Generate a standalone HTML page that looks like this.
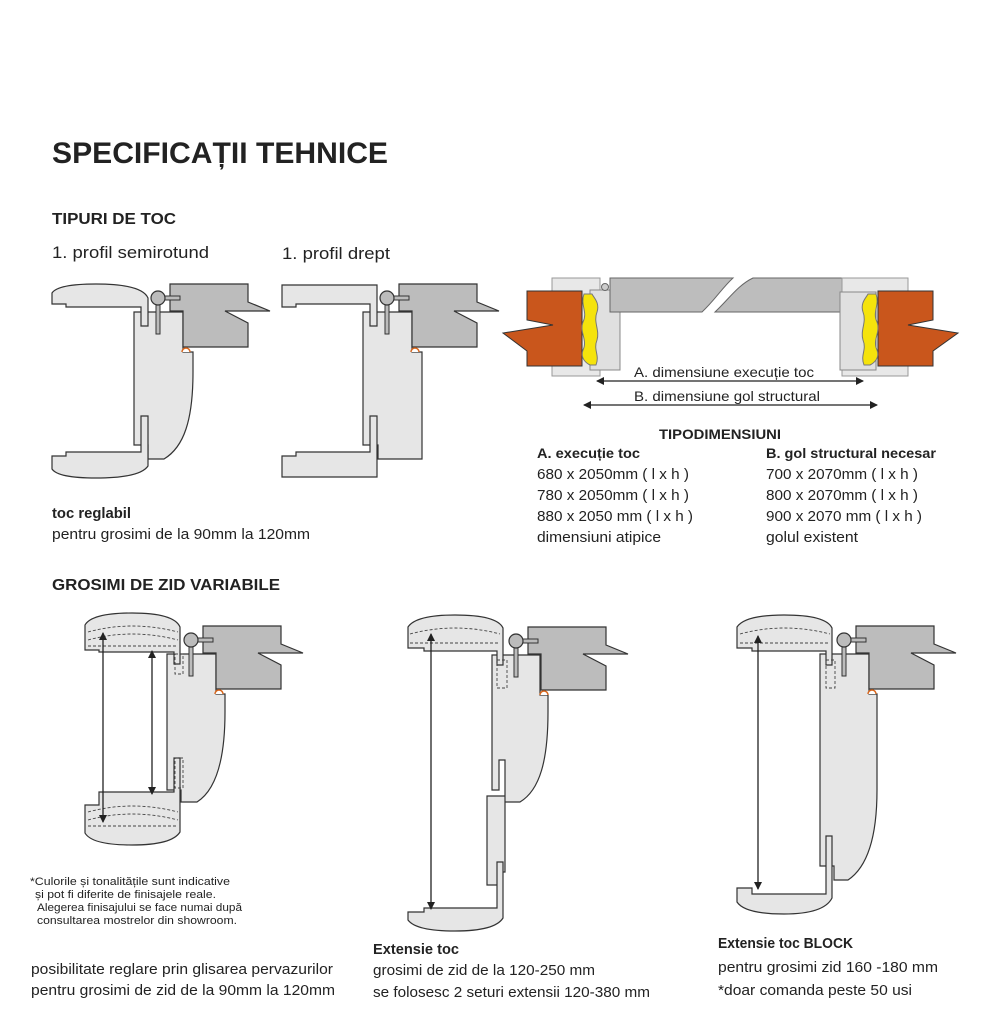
<!DOCTYPE html>
<html><head><meta charset="utf-8"><style>
html,body{margin:0;padding:0;background:#fff;}
svg{display:block;}
text{font-family:"Liberation Sans",sans-serif;fill:#222;}
.b{font-weight:bold;}
</style></head><body>
<svg width="993" height="1024" viewBox="0 0 993 1024" xmlns="http://www.w3.org/2000/svg">
<defs>
<marker id="ah" markerWidth="8" markerHeight="8" refX="7" refY="4" orient="auto-start-reverse" markerUnits="userSpaceOnUse"><path d="M0,0 L8,4 L0,8 Z" fill="#222"/></marker>
<g id="hw">
 <path d="M36,-28 H114 V-10 L136,-1 H91 L114,11 V35 H49 V-1 H36 Z" fill="#bcbcbc" stroke="#333" stroke-width="1.2"/>
 <rect x="30" y="-16" width="16" height="4" fill="#bcbcbc" stroke="#333" stroke-width="1"/>
 <rect x="22" y="-8" width="4" height="30" fill="#bcbcbc" stroke="#333" stroke-width="1"/>
 <circle cx="24" cy="-14" r="7" fill="#bcbcbc" stroke="#333" stroke-width="1.2"/>
 <path d="M48,40 a4,4 0 0 1 8,0" fill="#fff" stroke="#d8661c" stroke-width="1.5"/>
</g>
</defs>

<text x="52" y="163" class="b" font-size="30" textLength="336" lengthAdjust="spacingAndGlyphs">SPECIFICAȚII TEHNICE</text>
<text x="52" y="224" class="b" font-size="16" textLength="124" lengthAdjust="spacingAndGlyphs">TIPURI DE TOC</text>
<text x="52" y="258" font-size="17" textLength="157" lengthAdjust="spacingAndGlyphs">1. profil semirotund</text>
<text x="282" y="259" font-size="17" textLength="108" lengthAdjust="spacingAndGlyphs">1. profil drept</text>

<g stroke="#333" stroke-width="1.2" fill="#e6e6e6">
 <path d="M134,312 H183 V352 H193 V372 C193,420 184,447 164,459 H148 V445 H134 Z"/>
 <path d="M52,304 V293 Q58,284 96,284 Q142,284 148,298 V326 H141 V307 H66 V304 Z"/>
 <path d="M52,456 H66 V452 H141 V416 H148 V466 Q140,478 96,478 Q58,478 52,469 Z"/>
</g>
<use href="#hw" x="134" y="312"/>

<g stroke="#333" stroke-width="1.2" fill="#e6e6e6">
 <path d="M363,312 H412 V352 H422 V459 H378 V445 H363 Z"/>
 <path d="M282,285 H377 V326 H370 V304 H296 V307 H282 Z"/>
 <path d="M282,456 H296 V452 H370 V416 H377 V477 H282 Z"/>
</g>
<use href="#hw" x="363" y="312"/>

<g stroke="#666" stroke-width="1">
 <rect x="552" y="278" width="48" height="98" fill="#e8e8e8" stroke="#999"/>
 <rect x="590" y="290" width="30" height="80" fill="#e0e0e0" stroke="#888"/>
 <path d="M527,291 H582 V366 H527 V351 L503,333 L553,325 L527,320 Z" fill="#c9561c" stroke="#333"/>
 <path d="M584,294 C580,305 588,312 583,322 C579,332 588,340 583,350 C580,358 586,363 590,365 L596,365 C600,355 593,350 597,340 C600,330 593,322 597,312 C600,303 594,298 592,294 Z" fill="#f5e30c" stroke="#777"/>
 <path d="M610,278 H733 C722,288 715,300 702,312 H610 Z" fill="#bdbdbd"/>
 <path d="M753,278 H850 V312 H715 C728,300 738,285 753,278 Z" fill="#bdbdbd"/>
 <circle cx="605" cy="287" r="3.5" fill="#ccc"/>
 <rect x="842" y="278" width="66" height="98" fill="#e8e8e8" stroke="#999"/>
 <rect x="840" y="292" width="36" height="78" fill="#e0e0e0" stroke="#888"/>
 <path d="M933,291 H878 V366 H933 V351 L958,333 L908,325 L933,320 Z" fill="#c9561c" stroke="#333"/>
 <path d="M876,294 C880,305 872,312 877,322 C881,332 872,340 877,350 C880,358 874,363 870,365 L864,365 C860,355 867,350 863,340 C860,330 867,322 863,312 C860,303 866,298 868,294 Z" fill="#f5e30c" stroke="#777"/>
</g>
<line x1="597" y1="381" x2="863" y2="381" stroke="#222" stroke-width="1.3" marker-start="url(#ah)" marker-end="url(#ah)"/>
<line x1="584" y1="405" x2="877" y2="405" stroke="#222" stroke-width="1.3" marker-start="url(#ah)" marker-end="url(#ah)"/>
<text x="634" y="377" font-size="14" textLength="180" lengthAdjust="spacingAndGlyphs">A. dimensiune execuție toc</text>
<text x="634" y="401" font-size="14" textLength="186" lengthAdjust="spacingAndGlyphs">B. dimensiune gol structural</text>

<text x="659" y="439" class="b" font-size="14" textLength="122" lengthAdjust="spacingAndGlyphs">TIPODIMENSIUNI</text>
<text x="537" y="458" class="b" font-size="14" textLength="103" lengthAdjust="spacingAndGlyphs">A. execuție toc</text>
<text x="537" y="479" font-size="14.5" textLength="152" lengthAdjust="spacingAndGlyphs">680 x 2050mm ( l x h )</text>
<text x="537" y="500" font-size="14.5" textLength="152" lengthAdjust="spacingAndGlyphs">780 x 2050mm ( l x h )</text>
<text x="537" y="521" font-size="14.5" textLength="156" lengthAdjust="spacingAndGlyphs">880 x 2050 mm ( l x h )</text>
<text x="537" y="542" font-size="14.5" textLength="124" lengthAdjust="spacingAndGlyphs">dimensiuni atipice</text>
<text x="766" y="458" class="b" font-size="14" textLength="170" lengthAdjust="spacingAndGlyphs">B. gol structural necesar</text>
<text x="766" y="479" font-size="14.5" textLength="152" lengthAdjust="spacingAndGlyphs">700 x 2070mm ( l x h )</text>
<text x="766" y="500" font-size="14.5" textLength="152" lengthAdjust="spacingAndGlyphs">800 x 2070mm ( l x h )</text>
<text x="766" y="521" font-size="14.5" textLength="156" lengthAdjust="spacingAndGlyphs">900 x 2070 mm ( l x h )</text>
<text x="766" y="542" font-size="14.5" textLength="92" lengthAdjust="spacingAndGlyphs">golul existent</text>

<text x="52" y="518" class="b" font-size="14.5" textLength="79" lengthAdjust="spacingAndGlyphs">toc reglabil</text>
<text x="52" y="539" font-size="14.5" textLength="258" lengthAdjust="spacingAndGlyphs">pentru grosimi de la 90mm la 120mm</text>

<text x="52" y="590" class="b" font-size="16" textLength="228" lengthAdjust="spacingAndGlyphs">GROSIMI DE ZID VARIABILE</text>

<g stroke="#333" stroke-width="1.2" fill="#e6e6e6">
 <path d="M167,654 H216 V694 H225 V712 C225,760 216,790 197,802 H181 V790 H167 Z"/>
 <path d="M85,640 V625 Q92,613 132,613 Q174,613 180,627 V664 H174 V652 H99 V650 H85 Z"/>
 <path d="M85,805 H99 V792 H174 V758 H180 V832 Q172,845 132,845 Q92,845 85,833 Z"/>
</g>
<g fill="none" stroke="#444" stroke-width="0.9" stroke-dasharray="3,2">
 <path d="M88,632 Q132,620 178,632"/><path d="M88,640 Q132,628 178,640"/><path d="M88,646 H178"/>
 <path d="M88,812 Q132,800 178,812"/><path d="M88,820 Q132,808 178,820"/><path d="M88,826 H178"/>
 <rect x="175" y="654" width="8" height="20"/><rect x="175" y="758" width="8" height="30"/>
</g>
<use href="#hw" x="167" y="654"/>
<line x1="103" y1="633" x2="103" y2="822" stroke="#222" stroke-width="1.3" marker-start="url(#ah)" marker-end="url(#ah)"/>
<line x1="152" y1="651" x2="152" y2="794" stroke="#222" stroke-width="1.3" marker-start="url(#ah)" marker-end="url(#ah)"/>

<g stroke="#333" stroke-width="1.2" fill="#e6e6e6">
 <path d="M492,655 H540 V695 H548 V712 C548,760 540,790 520,802 H505 V796 H487 V885 H500 V872 H505 V760 H499 V790 H492 Z"/>
 <path d="M408,640 V627 Q416,615 455,615 Q497,615 503,628 V665 H497 V651 H424 V648 H408 Z"/>
 <path d="M408,912 H424 V908 H497 V862 H503 V918 Q495,931 455,931 Q416,931 408,920 Z"/>
</g>
<g fill="none" stroke="#444" stroke-width="0.9" stroke-dasharray="3,2">
 <path d="M410,634 Q455,622 500,634"/><path d="M410,643 H500"/><rect x="497" y="660" width="10" height="28"/>
</g>
<use href="#hw" x="492" y="655"/>
<line x1="431" y1="634" x2="431" y2="909" stroke="#222" stroke-width="1.3" marker-start="url(#ah)" marker-end="url(#ah)"/>

<g stroke="#333" stroke-width="1.2" fill="#e6e6e6">
 <path d="M820,654 H869 V694 H877 V790 C877,840 866,868 848,880 H834 V866 H820 Z"/>
 <path d="M737,640 V627 Q745,615 784,615 Q826,615 832,628 V665 H826 V651 H752 V648 H737 Z"/>
 <path d="M737,888 H752 V894 H826 V836 H832 V898 Q824,914 784,914 Q745,914 737,902 Z"/>
</g>
<g fill="none" stroke="#444" stroke-width="0.9" stroke-dasharray="3,2">
 <path d="M740,634 Q784,622 830,634"/><path d="M740,643 H830"/><rect x="826" y="660" width="9" height="28"/>
</g>
<use href="#hw" x="820" y="654"/>
<line x1="758" y1="636" x2="758" y2="889" stroke="#222" stroke-width="1.3" marker-start="url(#ah)" marker-end="url(#ah)"/>

<text x="30" y="885" font-size="11" textLength="200" lengthAdjust="spacingAndGlyphs">*Culorile și tonalitățile sunt indicative</text>
<text x="35" y="898" font-size="11" textLength="181" lengthAdjust="spacingAndGlyphs">și pot fi diferite de finisajele reale.</text>
<text x="37" y="911" font-size="11" textLength="205" lengthAdjust="spacingAndGlyphs">Alegerea finisajului se face numai după</text>
<text x="37" y="924" font-size="11" textLength="200" lengthAdjust="spacingAndGlyphs">consultarea mostrelor din showroom.</text>

<text x="31" y="974" font-size="14.5" textLength="302" lengthAdjust="spacingAndGlyphs">posibilitate reglare prin glisarea pervazurilor</text>
<text x="31" y="995" font-size="14.5" textLength="304" lengthAdjust="spacingAndGlyphs">pentru grosimi de zid de la 90mm la 120mm</text>

<text x="373" y="954" class="b" font-size="14.5" textLength="86" lengthAdjust="spacingAndGlyphs">Extensie toc</text>
<text x="373" y="975" font-size="14.5" textLength="222" lengthAdjust="spacingAndGlyphs">grosimi de zid de la 120-250 mm</text>
<text x="373" y="997" font-size="14.5" textLength="277" lengthAdjust="spacingAndGlyphs">se folosesc 2 seturi extensii 120-380 mm</text>

<text x="718" y="948" class="b" font-size="14.5" textLength="135" lengthAdjust="spacingAndGlyphs">Extensie toc BLOCK</text>
<text x="718" y="972" font-size="14.5" textLength="220" lengthAdjust="spacingAndGlyphs">pentru grosimi zid 160 -180 mm</text>
<text x="718" y="995" font-size="14.5" textLength="194" lengthAdjust="spacingAndGlyphs">*doar comanda peste 50 usi</text>
</svg>
</body></html>
